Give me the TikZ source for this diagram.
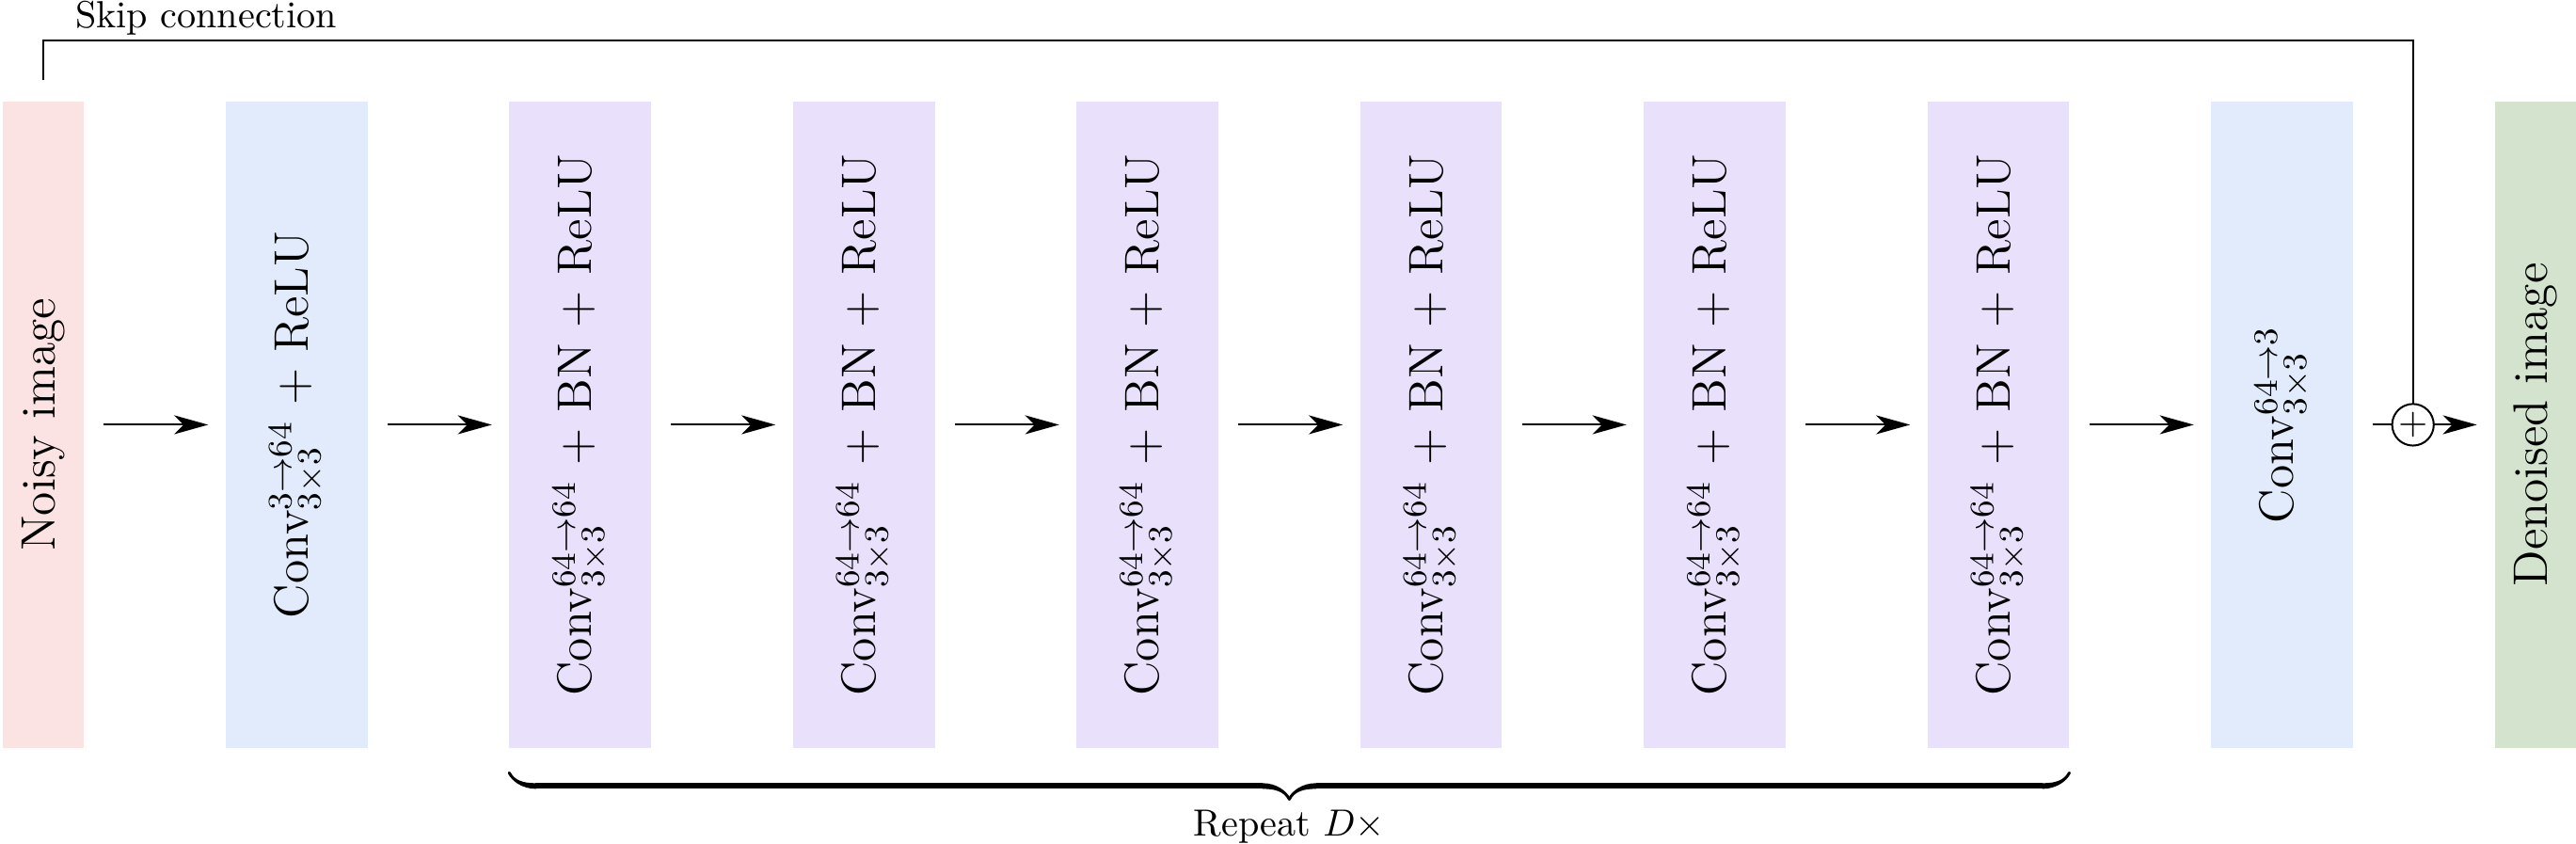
\documentclass[tikz,border=0pt]{standalone}
\usepackage{amsmath}
\usepackage{graphicx}
\usepackage{tikz}
\usetikzlibrary{positioning, arrows.meta, graphs, decorations.pathreplacing, calligraphy}
\usepackage{xcolor}

\definecolor{noisy-red}{RGB}{250,227,226}
\definecolor{conv-blue}{RGB}{226,235,252}
\definecolor{block-violet}{RGB}{233,225,251}
\definecolor{clean-green}{RGB}{211,227,205}

\newcommand{\layertext}[1]{\rotatebox{90}{\fontsize{12.8pt}{15pt}\selectfont #1}}

\begin{document}
\begin{tikzpicture}[node distance=37.5pt, >={Stealth[length=9pt, width=5pt, inset=2.5pt]},
    layer/.style={minimum width=37.5pt, minimum height=171pt, inner sep=0pt, outer sep=0pt},
    image/.style={minimum width=21.4pt, minimum height=171pt, inner sep=0pt, outer sep=0pt}]
    \useasboundingbox (0,-110.6pt) rectangle (681.1pt,112.3pt);

    \node[image, fill=noisy-red] (noisy) at (11.44pt,0) {\layertext{Noisy image}};
    \node[layer, right=of noisy, fill=conv-blue] (conv-in) {\layertext{Conv$^{3\rightarrow 64}_{3\times 3}$ + ReLU}};

    \node[layer, right=of conv-in, fill=block-violet] (block-1) {\layertext{Conv$^{64\rightarrow 64}_{3\times 3}$ + BN + ReLU}};
    \node[layer, right=of block-1, fill=block-violet] (block-2) {\layertext{Conv$^{64\rightarrow 64}_{3\times 3}$ + BN + ReLU}};
    \node[layer, right=of block-2, fill=block-violet] (block-3) {\layertext{Conv$^{64\rightarrow 64}_{3\times 3}$ + BN + ReLU}};
    \node[layer, right=of block-3, fill=block-violet] (block-4) {\layertext{Conv$^{64\rightarrow 64}_{3\times 3}$ + BN + ReLU}};
    \node[layer, right=of block-4, fill=block-violet] (block-5) {\layertext{Conv$^{64\rightarrow 64}_{3\times 3}$ + BN + ReLU}};
    \node[layer, right=of block-5, fill=block-violet] (block-6) {\layertext{Conv$^{64\rightarrow 64}_{3\times 3}$ + BN + ReLU}};

    \node[layer, right=of block-6, fill=conv-blue] (conv-out) {\layertext{Conv$^{64\rightarrow 3}_{3\times 3}$}};

    \node[draw, circle, line width=0.5pt, inner sep=0pt, outer sep=0pt, minimum size=11pt, right=10.35pt of conv-out] (plus) {$+$};
    \node[image, right=16.15pt of plus, fill=clean-green] (denoised) {\layertext{Denoised image}};

    \graph[edges={line width=0.5pt, shorten <=5.3pt, shorten >=4.6pt}]{
    (noisy) -> (conv-in) -> (block-1) -> (block-2) -> (block-3) -> (block-4) -> (block-5) -> (block-6) -> (conv-out);
    (conv-out) -- [shorten <=5.1pt, shorten >=0pt](plus) -> [shorten <=0pt, shorten >=4.75pt](denoised);
    };

    \draw[line width=0.5pt] ([yshift=5.7pt]noisy.north) -- ([yshift=16.2pt]noisy.north) coordinate (skip-corner) -| (plus.north);
    \node[anchor=base west, inner sep=0pt] (skip-label) at ([xshift=8.3pt, yshift=3.3pt]skip-corner) {Skip connection};

    \draw[decorate, decoration={calligraphic brace, amplitude=7pt, raise=6.5pt, mirror}, line width=1.5pt, pen colour={black}] (block-1.south west) -- (block-6.south east);
    \path (block-1.south west) -- (block-6.south east) node[midway, below=12.8pt] (repeat-label) {Repeat $D\times$};
\end{tikzpicture}
\end{document}
